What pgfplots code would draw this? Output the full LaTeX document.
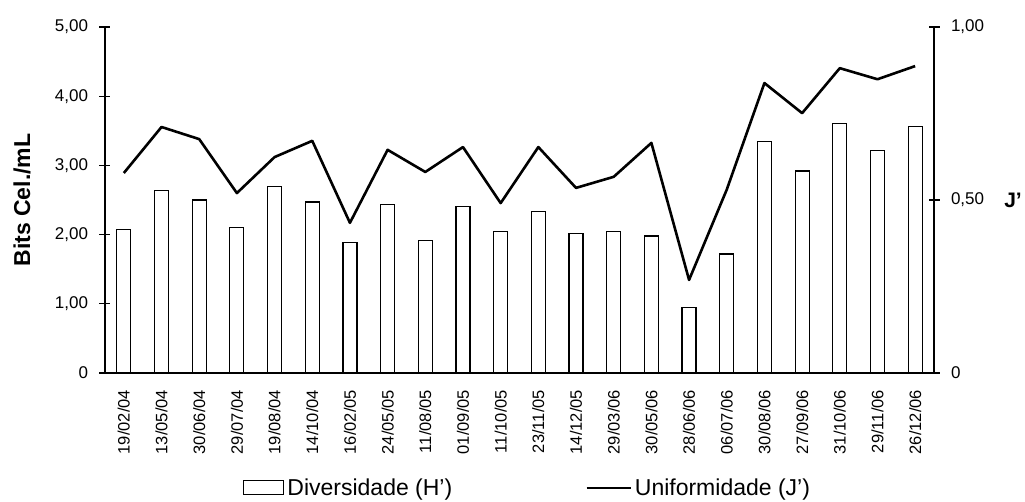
\documentclass[border=0pt]{standalone}
\usepackage{fontspec}
\setmainfont{Liberation Sans}
\usepackage{pgfplots}
\pgfplotsset{compat=1.18}
\begin{document}
\begin{tikzpicture}
\begin{axis}[
  at={(0pt,0pt)}, anchor=south west,
  scale only axis, width=829pt, height=346pt,
  xmin=-0.5, xmax=21.5, ymin=0, ymax=5,
  axis x line*=bottom, axis y line*=left,
  axis line style={line width=1.2pt, -},
  every tick/.style={line width=1.2pt, black},
  tick align=center, major tick length=11pt, minor tick length=12pt,
  xtick={0,...,21},
  xticklabels={19/02/04,13/05/04,30/06/04,29/07/04,19/08/04,14/10/04,16/02/05,24/05/05,11/08/05,01/09/05,11/10/05,23/11/05,14/12/05,29/03/06,30/05/06,28/06/06,06/07/06,30/08/06,27/09/06,31/10/06,29/11/06,26/12/06},
  x tick style={draw=none},
  minor xtick={-0.5,0.5,...,21.5},
  minor x tick style={line width=1.2pt, black},
  xticklabel style={rotate=90, anchor=east, font=\fontsize{16.5}{18}\selectfont, xshift=-8pt},
  ytick={0,1,2,3,4,5},
  yticklabels={0,{1,00},{2,00},{3,00},{4,00},{5,00}},
  yticklabel style={font=\fontsize{17}{19}\selectfont, xshift=-8pt},
  ylabel={\textbf{Bits Cel./mL}},
  ylabel style={at={(axis description cs:-0.1001,0.5)}, anchor=center, font=\fontsize{23}{26}\selectfont},
  legend columns=2,
  legend style={at={(0.1665,-0.332)}, anchor=west, draw=none, fill=none, inner sep=0pt,
    font=\fontsize{23}{26}\selectfont,
    nodes={inner xsep=3pt, inner ysep=0pt},
    /tikz/column 2/.style={column sep=130pt}},
]
\addplot[ybar, bar width=14pt, draw=black, line width=1.2pt, fill=white,
  legend image code/.code={\draw[line width=1.2pt, fill=white] (0pt,-7pt) rectangle (40pt,7pt);}]
  coordinates {(0,2.07) (1,2.64) (2,2.50) (3,2.10) (4,2.70) (5,2.47) (6,1.89) (7,2.44) (8,1.92) (9,2.41) (10,2.04) (11,2.33) (12,2.02) (13,2.04) (14,1.98) (15,0.95) (16,1.72) (17,3.35) (18,2.92) (19,3.61) (20,3.21) (21,3.56)};
\addlegendentry{Diversidade (H’)}
\addlegendimage{black, line width=2.6pt, legend image code/.code={\draw[line width=2.6pt] (0pt,0pt) -- (44pt,0pt);}}
\addlegendentry{Uniformidade (J’)}
\end{axis}
\begin{axis}[
  at={(0pt,0pt)}, anchor=south west,
  scale only axis, width=829pt, height=346pt,
  xmin=-0.5, xmax=21.5, ymin=0, ymax=1,
  axis y line*=right, axis x line=none,
  axis line style={line width=1.2pt, -},
  every tick/.style={line width=1.2pt, black},
  tick align=center, major tick length=11pt,
  ytick={0,0.5,1},
  yticklabels={0,{0,50},{1,00}},
  yticklabel style={font=\fontsize{17}{19}\selectfont, xshift=8pt},
  ylabel={\textbf{J’}},
  ylabel style={at={(axis description cs:1.0953,0.5)}, anchor=center, rotate=-90, font=\fontsize{21}{23}\selectfont},
]
\addplot[black, line width=2.6pt, line join=round]
  coordinates {(0,0.578) (1,0.711) (2,0.676) (3,0.520) (4,0.624) (5,0.671) (6,0.434) (7,0.645) (8,0.581) (9,0.653) (10,0.491) (11,0.653) (12,0.535) (13,0.567) (14,0.665) (15,0.269) (16,0.53) (17,0.838) (18,0.751) (19,0.881) (20,0.849) (21,0.887)};
\end{axis}
\pgfresetboundingbox
\path[use as bounding box] (-105pt,-128pt) rectangle (920pt,373pt);
\end{tikzpicture}
\end{document}
